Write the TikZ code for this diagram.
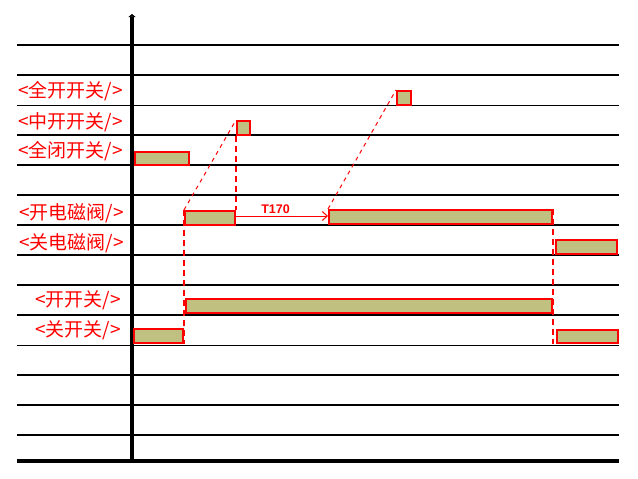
\documentclass[tikz,border=0pt]{standalone}
\usepackage{fontspec}
\newfontfamily\cjk{Noto Sans CJK SC}
\setsansfont{Liberation Sans}
\usetikzlibrary{arrows.meta}
\definecolor{barfill}{RGB}{192,192,128}
\tikzset{
	bar/.style={draw=red, fill=barfill, line width=2pt, inner sep=0pt, anchor=north west},
	sig/.style={text=red, anchor=east, inner sep=0pt, font=\cjk\fontsize{19}{19}\selectfont},
	guide/.style={red, line width=2pt, dash pattern=on 6pt off 4pt},
	slant/.style={red, line width=1pt, dash pattern=on 4pt off 4pt},
}
\begin{document}
\begin{tikzpicture}[x=1pt, y=-1pt]
		\useasboundingbox (0,0) rectangle (638,479);
		% Grid lines
		\foreach \y in {45,75,135,165,195,225,255,285,315,375,405,435}
			\draw [line width=2pt] (17,\y) -- (619,\y);
		\foreach \y in {105,345}
			\draw [line width=1pt] (17,\y) -- (619,\y);
		% Axes
		\draw [line width=4pt] (17,461) -- (619,461);
		\draw [line width=4pt, -{Triangle[length=3pt, width=7pt]}] (132,461) -- (132,14);
		% Signal names
		\node [sig] (full)  at (123,91)  {<全开开关/>};
		\node [sig] (mid)   at (123,122) {<中开开关/>};
		\node [sig] (shut)  at (123,151) {<全闭开关/>};
		\node [sig] (vopen) at (124,213) {<开电磁阀/>};
		\node [sig] (vclos) at (124,243) {<关电磁阀/>};
		\node [sig] (sopen) at (121,300) {<开开关/>};
		\node [sig] (sclos) at (121,330) {<关开关/>};
		% Bars
		\node [bar, minimum width=54pt,  minimum height=13pt] (shutbar) at (134,151) {};
		\node [bar, minimum width=13pt,  minimum height=14pt] (midbar)  at (236,120) {};
		\node [bar, minimum width=14pt,  minimum height=14pt] (fullbar) at (396,90)  {};
		\node [bar, minimum width=50pt,  minimum height=14pt] (vo1)     at (184,210) {};
		\node [bar, minimum width=223pt, minimum height=14pt] (vo2)     at (328,209) {};
		\node [bar, minimum width=61pt,  minimum height=14pt] (vc)      at (555,239) {};
		\node [bar, minimum width=366pt, minimum height=14pt] (so)      at (185,298) {};
		\node [bar, minimum width=49pt,  minimum height=14pt] (sc1)     at (133,328) {};
		\node [bar, minimum width=61pt,  minimum height=13pt] (sc2)     at (556,329) {};
		% Timing links
		\draw [guide] (midbar.south west) -- (midbar.south west |- vo1.north);
		\draw [guide] (vo1.north west) -- (vo1.north west |- sc1.south);
		\draw [guide] (vo2.north east) -- (vo2.north east |- sc2.south);
		\draw [slant] (vo1.north west) -- (midbar.north west);
		\draw [slant] (vo2.north west) -- (fullbar.north west);
		\draw [red, line width=1pt, -{Straight Barb[length=5pt, width=9pt]}] ([yshift=2pt]vo1.east) -- node [pos=0.43, above, inner sep=2pt, text=red, font=\sffamily\bfseries\fontsize{12.5}{12.5}\selectfont] (delay) {T170} ([yshift=1pt]vo2.west);
	\end{tikzpicture}
\end{document}
